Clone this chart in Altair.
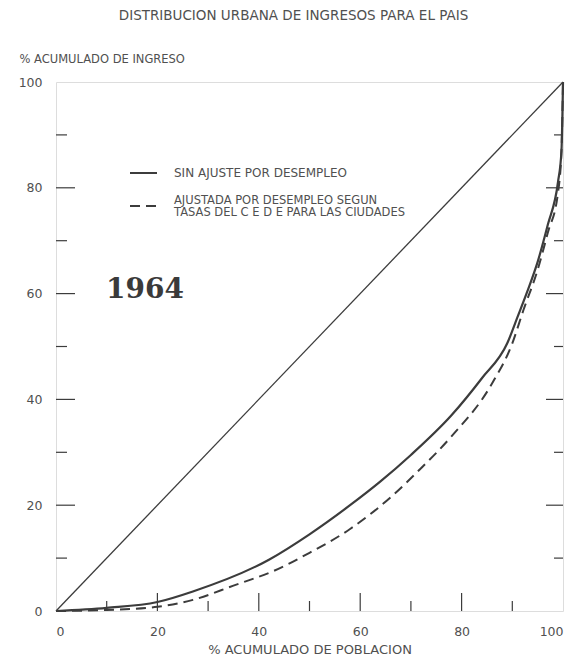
import altair as alt
import pandas as pd

# Curva de Lorenz sin ajuste por desempleo
pop_solid = [0, 10, 20, 27, 42, 50, 58, 64, 70, 78, 84, 89, 91, 93, 95, 97, 99, 99.7, 100]
inc_solid = [0, 0.6, 1.7, 3.7, 9.7, 14.5, 20, 24.5, 29.5, 37, 44, 50.6, 55.5, 60.5, 66, 73, 81, 87, 100]
# Curva ajustada por desempleo (tasas del CEDE)
pop_adj = [0, 10, 20, 27, 35, 43, 50, 58, 66, 72, 78, 86, 90, 92.2, 95, 97, 99, 99.7, 100]
inc_adj = [0, 0.2, 0.8, 2.1, 4.8, 7.6, 11, 15.5, 21.5, 27, 33, 43, 50.6, 56.9, 64.5, 71.5, 79, 87, 100]
# Linea de igualdad
eq_pop = [0, 100]
eq_inc = [0, 100]

tick_labels = [0, 20, 40, 60, 80, 100]
major_ticks = [20, 40, 60, 80]
minor_ticks = [10, 30, 50, 70, 90]

title_text = "DISTRIBUCION URBANA DE INGRESOS PARA EL PAIS"
y_title = "% ACUMULADO DE INGRESO"
x_title = "% ACUMULADO DE POBLACION"
legend_solid = "SIN AJUSTE POR DESEMPLEO"
legend_adj = ["AJUSTADA POR DESEMPLEO SEGUN", "TASAS DEL  C E D E  PARA LAS CIUDADES"]
year_label = "1964"

W, H = 507, 529
INK = "#3c3c3c"
TXT = "#505050"
FONT = "DejaVu Sans"

xs = alt.Scale(domain=[0, 100], nice=False)
ys = alt.Scale(domain=[0, 100], nice=False)

df_solid = pd.DataFrame({"x": pop_solid, "y": inc_solid})
df_adj = pd.DataFrame({"x": pop_adj, "y": inc_adj})
df_eq = pd.DataFrame({"x": eq_pop, "y": eq_inc})
df_major = pd.DataFrame({"v": major_ticks})
df_minor = pd.DataFrame({"v": minor_ticks})
one = pd.DataFrame({"a": [0]})

x_axis = alt.Axis(values=tick_labels, ticks=False, grid=False, domain=False,
                  labelFont=FONT, labelFontSize=12.5, labelColor=TXT, labelPadding=14,
                  title=x_title, titleFont=FONT, titleFontSize=13, titleFontWeight="normal",
                  titleColor=TXT, titlePadding=6)
y_axis = alt.Axis(values=tick_labels, ticks=False, grid=False, domain=False,
                  labelFont=FONT, labelFontSize=12.5, labelColor=TXT, labelPadding=14,
                  title=y_title, titleFont=FONT, titleFontSize=11.5, titleFontWeight="normal",
                  titleColor=TXT, titleAngle=0, titleAlign="left", titleBaseline="middle",
                  titleX=-37, titleY=-23)

X = alt.X("x:Q", scale=xs, axis=x_axis)
Y = alt.Y("y:Q", scale=ys, axis=y_axis)

eq = alt.Chart(df_eq).mark_line(color=INK, strokeWidth=1.3).encode(x=X, y=Y)
solid = alt.Chart(df_solid).mark_line(color=INK, strokeWidth=2.2,
                                      interpolate="monotone").encode(x=X, y=Y)
adj = alt.Chart(df_adj).mark_line(color=INK, strokeWidth=2.0, strokeDash=[10, 6],
                                  interpolate="monotone").encode(x=X, y=Y)

def yticks(df, length, side):
    if side == "left":
        xa, xb = 0, length
    else:
        xa, xb = W - length, W
    return alt.Chart(df).mark_rule(color=INK, strokeWidth=1.2).encode(
        y=alt.Y("v:Q", scale=ys, axis=y_axis), x=alt.value(xa), x2=alt.value(xb))

def xticks(df, length):
    return alt.Chart(df).mark_rule(color=INK, strokeWidth=1.2).encode(
        x=alt.X("v:Q", scale=xs, axis=x_axis), y=alt.value(H - length), y2=alt.value(H))

ticks = [yticks(df_major, 19, "left"), yticks(df_minor, 11, "left"),
         yticks(df_major, 17, "right"), yticks(df_minor, 9, "right"),
         xticks(df_major, 18), xticks(df_minor, 10)]

leg_solid_line = alt.Chart(one).mark_rule(color=INK, strokeWidth=2).encode(
    x=alt.value(74), x2=alt.value(101), y=alt.value(91))
leg_adj_line = alt.Chart(one).mark_rule(color=INK, strokeWidth=2, strokeDash=[10, 6]).encode(
    x=alt.value(74), x2=alt.value(102), y=alt.value(124))
leg_solid_text = alt.Chart(one).mark_text(align="left", baseline="middle", font=FONT,
                                          fontSize=12, color=TXT).encode(
    x=alt.value(118), y=alt.value(91), text=alt.value(legend_solid))
leg_adj_text = alt.Chart(one).mark_text(align="left", baseline="middle", font=FONT,
                                        fontSize=11.5, color=TXT, lineHeight=12.5).encode(
    x=alt.value(118), y=alt.value(118.5), text=alt.value(legend_adj))
year = alt.Chart(one).mark_text(align="left", baseline="middle", font="DejaVu Serif",
                                fontSize=28, fontWeight="bold", color="#3a3a3a").encode(
    x=alt.value(50), y=alt.value(208), text=alt.value(year_label))

chart = alt.layer(eq, solid, adj, *ticks, leg_solid_line, leg_adj_line,
                  leg_solid_text, leg_adj_text, year).properties(
    width=W, height=H,
    title=alt.TitleParams(title_text, anchor="middle", font=FONT, fontSize=13.5,
                          fontWeight="normal", color=TXT, offset=31, dx=-16),
    autosize=alt.AutoSizeParams(type="none"),
    padding={"left": 48, "top": 74, "right": 11, "bottom": 52},
).configure_view(stroke=INK, strokeWidth=1.4).configure(background="white")

chart.save("out.html", embed_options={"renderer": "svg", "actions": False})
